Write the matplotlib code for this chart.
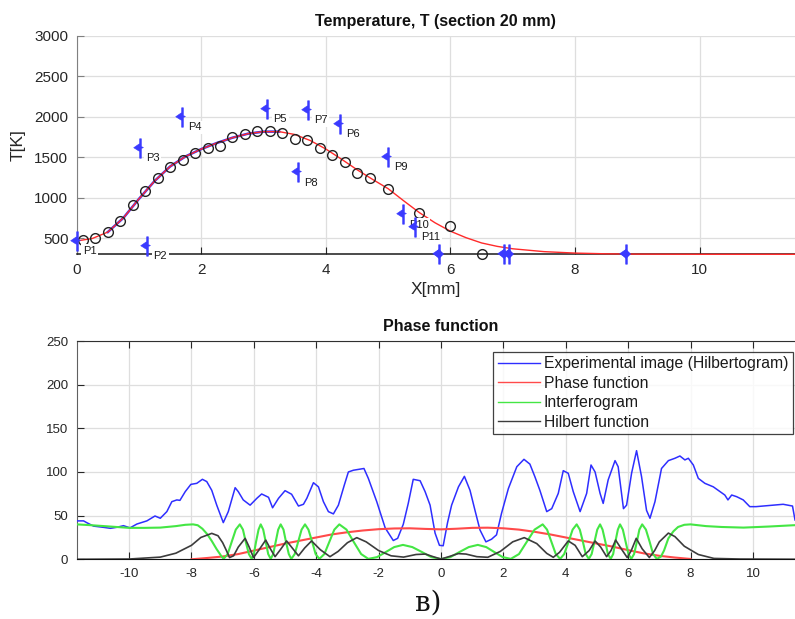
import matplotlib
matplotlib.use("Agg")
import matplotlib.pyplot as plt
from matplotlib.path import Path

plt.rcParams['font.family'] = ['Liberation Sans', 'DejaVu Sans']
plt.rcParams['axes.unicode_minus'] = False

# ---------------- data: top panel ----------------
circ_x = [0.1, 0.3, 0.5, 0.7, 0.9, 1.1, 1.3, 1.5, 1.7, 1.9, 2.1, 2.3, 2.5, 2.7, 2.9,
          3.1, 3.3, 3.5, 3.7, 3.9, 4.1, 4.3, 4.5, 4.7, 5.0, 5.5, 6.0, 6.5]
circ_T = [480, 500, 578, 714, 903, 1076, 1240, 1380, 1470, 1549, 1610, 1639, 1746, 1787, 1820,
          1824, 1803, 1721, 1709, 1618, 1524, 1442, 1306, 1244, 1109, 812, 652, 300]

fit_x = [0, 0.25, 0.5, 0.75, 1.0, 1.25, 1.5, 1.75, 2.0, 2.25, 2.5, 2.75, 3.0, 3.25, 3.5, 3.75,
         4.0, 4.25, 4.5, 4.75, 5.0, 5.25, 5.5, 5.75, 6.0, 6.25, 6.5, 6.75, 7.0, 7.5, 8.0, 8.5,
         9.0, 10.0, 11.6]
fit_T = [465, 495, 575, 750, 985, 1205, 1385, 1510, 1600, 1675, 1740, 1790, 1815, 1815, 1780, 1705,
         1600, 1475, 1345, 1225, 1110, 960, 815, 690, 585, 505, 440, 398, 368, 333, 315, 306,
         302, 300, 300]

pt_names = ['P1', 'P2', 'P3', 'P4', 'P5', 'P6', 'P7', 'P8', 'P9', 'P10', 'P11']
pt_x = [0.0, 1.13, 1.01, 1.69, 3.06, 4.23, 3.71, 3.55, 4.99, 5.23, 5.43]
pt_T = [470, 405, 1615, 1997, 2095, 1912, 2083, 1312, 1503, 792, 640]
base_pt_x = [5.81, 6.86, 6.94, 8.81]
base_pt_T = [300, 300, 300, 300]

# ---------------- data: bottom panel ----------------
blue_x = [-11.68, -11.46, -11.36, -11.14, -10.82, -10.6, -10.4, -10.18, -9.97, -9.75, -9.43, -9.17,
          -9.0, -8.79, -8.63, -8.47, -8.37, -8.2, -8.02, -7.83, -7.65, -7.51, -7.35, -7.19, -6.98,
          -6.82, -6.6, -6.5, -6.34, -6.12, -5.9, -5.75, -5.53, -5.4, -5.21, -5.0, -4.79, -4.57,
          -4.41, -4.3, -4.09, -3.93, -3.77, -3.61, -3.45, -3.29, -3.1, -2.97, -2.81, -2.65, -2.47,
          -2.33, -2.2, -2.06, -1.79, -1.53, -1.39, -1.21, -1.05, -0.89, -0.67, -0.51, -0.35, -0.19,
          -0.05, 0.07, 0.21, 0.34, 0.56, 0.75, 0.93, 1.09, 1.25, 1.44, 1.62, 1.78, 1.94, 2.16, 2.43,
          2.66, 2.85, 3.01, 3.17, 3.39, 3.55, 3.76, 3.92, 4.08, 4.24, 4.46, 4.67, 4.81, 4.94, 5.1,
          5.2, 5.36, 5.58, 5.68, 5.85, 5.95, 6.11, 6.27, 6.43, 6.59, 6.7, 6.86, 7.07, 7.29, 7.5,
          7.66, 7.82, 7.93, 8.09, 8.25, 8.46, 8.73, 8.89, 9.1, 9.2, 9.32, 9.48, 9.69, 9.9, 10.1,
          10.34, 10.65, 10.97, 11.27, 11.35]
blue_v = [44, 44, 42, 38, 36.6, 35.5, 36.6, 38.5, 36, 40.4, 44, 49.6,
          47, 54.6, 66, 68, 67.5, 77.5, 85.8, 87, 91.6, 89, 79, 62, 42,
          54.6, 82, 77.5, 68, 62, 70, 74.8, 71, 59, 69.8, 78.6, 74.5, 61,
          63, 70, 87.7, 83, 66, 54.6, 52, 62, 85, 100, 102, 103, 104,
          92.7, 80, 66, 36, 21.5, 24, 40, 64, 91.6, 90, 77.5, 62, 30,
          16, 15.5, 42, 62, 83, 95, 79, 56, 33.6, 20, 23, 28, 52.6, 81, 106,
          114.5, 109, 94.6, 79, 54.6, 58, 75.5, 101.5, 98.5, 77.5, 54.6, 75.5, 108, 100, 75.5,
          64, 91, 113, 106, 58, 62, 98.5, 124.4, 94.6, 56, 47, 66, 104, 113, 115.7,
          118.3, 113.8, 115.7, 108, 92.7, 87, 83, 79, 73.6, 68, 73.6, 71.7, 68, 60.3, 60.3,
          61, 62, 63, 61, 45]

red_x = [-8, -7.5, -7, -6.5, -6, -5.5, -5, -4.5, -4, -3.5, -3, -2.5, -2, -1.5, -1, -0.5, 0,
         0.5, 1, 1.5, 2, 2.5, 3, 3.5, 4, 4.5, 5, 5.5, 6, 6.5, 7, 7.5, 8]
red_v = [0, 1.5, 3.2, 6, 10, 14, 18, 21.5, 25, 28.5, 31, 33, 34.5, 35.3, 35.5, 34.8, 34.3,
         35, 36, 36.2, 35.5, 34, 31.5, 28.5, 25, 21.5, 18, 14.5, 10.5, 6.8, 4, 2, 0.4]

green_x = [-11.68, -11.2, -10.8, -10.4, -10.0, -9.5, -9.0, -8.5, -8.2, -7.95, -7.8, -7.65, -7.5,
           -7.35, -7.2, -7.05, -6.97, -6.84, -6.71, -6.58, -6.45, -6.35, -6.26, -6.16, -6.07,
           -6.0, -5.93, -5.85, -5.78, -5.70, -5.62, -5.54, -5.46, -5.38, -5.30, -5.22, -5.14,
           -5.05, -4.97, -4.88, -4.80, -4.69, -4.58, -4.47, -4.36, -4.25, -4.13, -4.02, -3.90,
           -3.74, -3.58, -3.42, -3.26, -3.03, -2.80, -2.56, -2.33, -2.05, -1.77, -1.50, -1.22,
           -0.92, -0.61, -0.31, 0.0, 0.3, 0.59, 0.89, 1.18, 1.45, 1.71, 1.98, 2.24,
           2.5, 2.75, 3.0, 3.26, 3.40, 3.54, 3.68, 3.82, 3.95, 4.09, 4.22, 4.35,
           4.45, 4.55, 4.64, 4.74, 4.83, 4.92, 5.01, 5.10, 5.18, 5.27, 5.35, 5.44,
           5.52, 5.59, 5.67, 5.74, 5.83, 5.92, 6.01, 6.10, 6.19, 6.28, 6.36, 6.45,
           6.57, 6.69, 6.80, 6.92, 7.05, 7.15, 7.29, 7.45, 7.6, 7.8, 8.0, 8.5, 9.0, 9.7,
           10.5, 11.3, 11.68]
green_v = [40, 39, 38, 37, 36, 36, 36.3, 38, 39.5, 40, 39, 35, 29,
           21, 12, 4, 0.5, 6, 20, 34, 40, 34, 20, 6, 0.5,
           6, 20, 34, 40, 34, 20, 6, 0.5, 6, 20, 34, 40,
           34, 20, 6, 0.5, 6, 20, 34, 40, 34, 20, 6, 0.5,
           6, 20, 34, 40, 34, 20, 6, 0.5, 2.5, 8.3, 14, 16.5,
           14, 8.3, 2.5, 0.3, 2.5, 8.3, 14, 16.5, 14, 8.3, 2.5, 0.5,
           6, 20, 34, 40, 34, 20, 6, 0.5, 6, 20, 34, 40,
           34, 20, 6, 0.5, 6, 20, 34, 40, 34, 20, 6, 0.5,
           6, 20, 34, 40, 34, 20, 6, 0.5, 6, 20, 34, 40,
           34, 20, 6, 0.5, 3, 10, 24, 32, 37, 39.5, 40, 38, 37, 36.3,
           37.5, 39, 39.5]

black_x = [-11.68, -10, -9.0, -8.5, -8.0, -7.7, -7.35, -7.15, -7.0, -6.88, -6.78, -6.65, -6.5,
           -6.28, -6.15, -6.01, -5.85, -5.62, -5.47, -5.32, -5.15, -4.95, -4.77, -4.57, -4.37,
           -4.15, -3.87, -3.56, -3.3, -3.0, -2.7, -2.4, -2.0, -1.6, -1.2, -0.8, -0.5, -0.25, 0,
           0.25, 0.55, 0.8, 1.15, 1.5, 1.9, 2.3, 2.67, 3.07, 3.39, 3.6, 3.8, 4.08, 4.3, 4.53,
           4.75, 4.94, 5.12, 5.31, 5.45, 5.6, 5.78, 5.97, 6.1, 6.26, 6.45, 6.68, 6.85, 7.0,
           7.29, 7.5, 7.8, 8.25, 8.75, 9.6, 11.68]
black_v = [0, 0.3, 2.5, 7, 16, 25, 29.7, 27, 19, 10, 2, 4, 14,
           24, 14, 2, 10, 22, 12, 3, 11, 21, 13, 4, 13,
           21, 11, 3, 9, 19, 24.8, 20, 10, 4, 2.5, 5.5, 6, 3, 0.3,
           3, 6.5, 6, 3, 2.3, 9, 20, 24.8, 18, 6.8, 2.3, 8, 21, 16, 3,
           10, 21, 14, 3, 10, 22, 12, 2, 10, 24, 12, 2, 10, 20,
           30, 26, 15, 5.5, 1, 0.3, 0]

legend_labels = ['Experimental image (Hilbertogram)', 'Phase function', 'Interferogram',
                 'Hilbert function']

# ---------------- figure ----------------
W, H = 795, 619
fig = plt.figure(figsize=(W / 100, H / 100), dpi=100)

def fx(px):
    return px / W

def fy(py):
    return 1 - py / H

tick_col = '#262626'
grid_col = '#dedede'

# ----- top axes -----
ax1 = fig.add_axes([fx(76.7), fy(254.3), fx(795 - 76.7), (254.3 - 35.7) / H])
ax1.set_xlim(0, 11.53)
ax1.set_ylim(300, 3000)
ax1.set_xticks([0, 2, 4, 6, 8, 10])
ax1.set_yticks([500, 1000, 1500, 2000, 2500, 3000])
ax1.grid(True, color=grid_col, lw=0.9)
ax1.set_axisbelow(True)
for s in ['top', 'right']:
    ax1.spines[s].set_visible(False)
ax1.spines['left'].set_color('#808080')
ax1.spines['bottom'].set_color('#1a1a1a')
ax1.spines['bottom'].set_linewidth(1.1)
ax1.tick_params(direction='in', length=5, labelsize=11, colors=tick_col, pad=6)
ax1.tick_params(axis='y', color='#808080')

# blue fit beneath red on the rising branch
bx = [x for x in fit_x if 0.4 <= x <= 3.3]
bT = [t for x, t in zip(fit_x, fit_T) if 0.4 <= x <= 3.3]
ax1.plot(bx, bT, color='#3030ff', lw=1.8, zorder=3)
ax1.plot(fit_x, fit_T, color='#ff2a2a', lw=1.0, zorder=4, clip_on=False)
ax1.plot(circ_x, circ_T, 'o', mfc='none', mec='#222222', ms=7.0, mew=1.0, zorder=5,
         clip_on=False)

star = Path([(0.09, 1.0), (0.09, 0.2), (0.3, 0.1), (0.09, 0.0), (0.09, -1.0), (-0.09, -1.0),
             (-0.09, -0.3), (-0.7, 0.08), (-0.09, 0.5), (-0.09, 1.0), (0.09, 1.0)],
            [Path.MOVETO] + [Path.LINETO] * 9 + [Path.CLOSEPOLY])
star_col = '#3a3aff'
ax1.plot(pt_x, pt_T, linestyle='none', marker=star, ms=14, color=star_col, mew=0.4,
         zorder=8, clip_on=False)
ax1.plot(base_pt_x, base_pt_T, linestyle='none', marker=star, ms=14, color=star_col,
         mew=0.4, zorder=8, clip_on=False)
ax1.plot(base_pt_x, base_pt_T, linestyle='none', marker='D', ms=5, color=star_col,
         mew=0, zorder=8, clip_on=False)
for name, x, t in zip(pt_names, pt_x, pt_T):
    ax1.annotate(name, (x, t), xytext=(4.5, -7.5), textcoords='offset points',
                 ha='left', va='center', fontsize=8, color='#1a1a1a', zorder=7,
                 bbox=dict(boxstyle='square,pad=0.15', fc='white', ec='none'))

ax1.set_title('Temperature, T (section 20 mm)', fontsize=11.5, fontweight='bold',
              color='#111111', pad=7)
ax1.set_xlabel('X[mm]', fontsize=12.5, color=tick_col, labelpad=4)
ax1.set_ylabel('T[K]', fontsize=12.5, color=tick_col, labelpad=6)

# ----- bottom axes -----
ax2 = fig.add_axes([fx(76.7), fy(559.3), fx(805.3 - 76.7), (559.3 - 341.0) / H])
ax2.set_xlim(-11.68, 11.68)
ax2.set_ylim(0, 250)
ax2.set_xticks([-10, -8, -6, -4, -2, 0, 2, 4, 6, 8, 10])
ax2.set_yticks([0, 50, 100, 150, 200, 250])
ax2.grid(True, color=grid_col, lw=0.9)
ax2.set_axisbelow(True)
ax2.spines['left'].set_color('#606060')
ax2.spines['top'].set_color('#303030')
ax2.spines['bottom'].set_color('#111111')
ax2.tick_params(direction='in', length=5, labelsize=9.5, colors=tick_col, top=True,
                right=True, pad=6)

l1, = ax2.plot(blue_x, blue_v, color='#2e2eff', lw=1.1, zorder=3)
l2, = ax2.plot(red_x, red_v, color='#ff4a4a', lw=1.5, zorder=4)
l3, = ax2.plot(green_x, green_v, color='#44e644', lw=1.5, zorder=5)
l4, = ax2.plot(black_x, black_v, color='#3c3c3c', lw=1.2, zorder=6)

ax2.set_title('Phase function', fontsize=11.5, fontweight='bold', color='#111111', pad=7)

leg = ax2.legend([l1, l2, l3, l4], legend_labels, loc='upper right',
                 bbox_to_anchor=(fx(792.7), fy(351.7)), bbox_transform=fig.transFigure,
                 borderaxespad=0, fontsize=11.3, frameon=True, fancybox=False,
                 edgecolor='#111111', handlelength=2.7, handletextpad=0.2,
                 labelspacing=0.28, borderpad=0.3)
leg.get_frame().set_linewidth(0.9)
for h in leg.get_lines():
    h.set_linewidth(1.0)
for t in leg.get_texts():
    t.set_color('#1a1a1a')

fig.text(fx(428), fy(603), 'в)', fontsize=20, family=['DejaVu Serif'], ha='center',
         va='center', color='#111111')

fig.savefig('out.png', dpi=100)
